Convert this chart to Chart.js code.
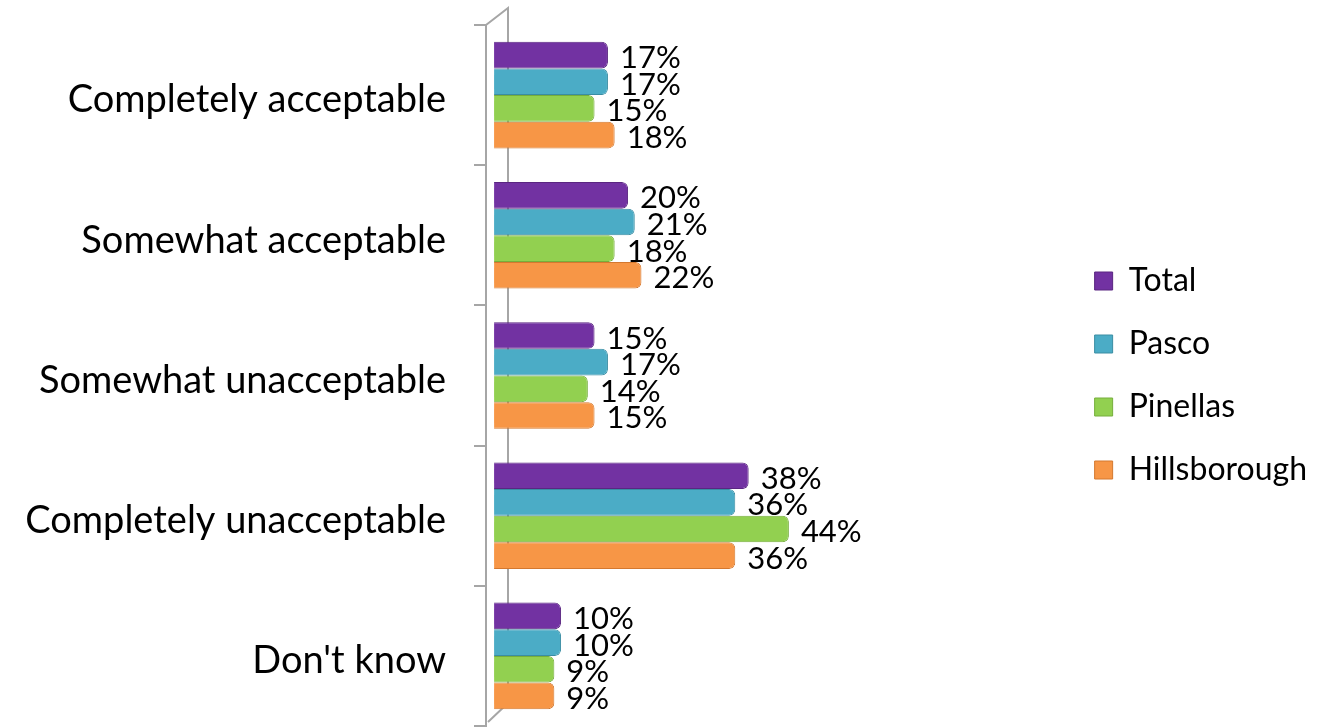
<!DOCTYPE html>
<html>
<head>
<meta charset="utf-8">
<script src="https://cdn.jsdelivr.net/npm/chart.js@4"></script>
<style>
    body { margin: 0; background: #fff; }
    #wrap { width: 1322px; height: 727px; position: relative; }
</style>
</head>
<body>
<div id="wrap"><canvas id="chart"></canvas></div>
<script>
const categories = ["Completely acceptable", "Somewhat acceptable", "Somewhat unacceptable", "Completely unacceptable", "Don't know"];
const seriesNames = ["Total", "Pasco", "Pinellas", "Hillsborough"];
const total = [17, 20, 15, 38, 10];
const pasco = [17, 21, 17, 36, 10];
const pinellas = [15, 18, 14, 44, 9];
const hillsborough = [18, 22, 15, 36, 9];

const colors = ["#7232A2", "#4BACC6", "#92D050", "#F79646"];
const borders = ["#5A2681", "#3A8DA3", "#76AE3C", "#D4782F"];
const FONT = "Lato, 'Open Sans', sans-serif";

const getData = () => {
    const values = [total, pasco, pinellas, hillsborough];
    return {
        labels: categories,
        datasets: seriesNames.map((name, i) => ({
            label: name,
            data: values[i],
            backgroundColor: colors[i],
            borderColor: borders[i],
            borderWidth: 1,
            borderRadius: 6,
            borderSkipped: "left",
            categoryPercentage: 0.76,
            barPercentage: 1,
        })),
    };
};

// value labels at the end of each bar
const valueLabels = {
    id: "valueLabels",
    afterDatasetsDraw(chart) {
        const ctx = chart.ctx;
        ctx.save();
        ctx.font = "31px " + FONT;
        ctx.fillStyle = "#000";
        ctx.textAlign = "left";
        ctx.textBaseline = "middle";
        chart.data.datasets.forEach((ds, i) => {
            chart.getDatasetMeta(i).data.forEach((bar, j) => {
                ctx.fillText(ds.data[j] + "%", bar.x + 12, bar.y + 3);
            });
        });
        ctx.restore();
    },
};

// back wall line of the 3d axis
const wall = {
    id: "wall",
    beforeDatasetsDraw(chart) {
        const { ctx, chartArea } = chart;
        const x0 = chartArea.left;
        const x1 = x0 + 22;
        ctx.save();
        ctx.strokeStyle = "#A6A6A6";
        ctx.lineWidth = 2;
        ctx.beginPath();
        ctx.moveTo(x0, chartArea.top);
        ctx.lineTo(x1, chartArea.top - 17);
        ctx.lineTo(x1, chartArea.bottom - 23);
        ctx.lineTo(x0 + 2, chartArea.bottom - 4);
        ctx.stroke();
        ctx.restore();
    },
};

const getConfig = (data) => {
    return {
        type: "bar",
        data: data,
        plugins: [wall, valueLabels],
        options: {
            indexAxis: "y",
            responsive: true,
            maintainAspectRatio: false,
            animation: false,
            layout: {
                padding: { top: 25, bottom: 1, left: 0, right: 5 },
            },
            scales: {
                x: {
                    display: false,
                    min: -1.2,
                    max: 85,
                },
                y: {
                    afterFit(scale) {
                        scale.width = 486;
                        scale.paddingTop = 0;
                        scale.paddingBottom = 0;
                    },
                    grid: {
                        drawOnChartArea: false,
                        offset: true,
                        tickLength: 12,
                        color: "#A6A6A6",
                        lineWidth: 2,
                    },
                    border: { color: "#A6A6A6", width: 2 },
                    ticks: {
                        color: "#000",
                        padding: 28,
                        labelOffset: 5,
                        font: { family: FONT, size: 38 },
                    },
                },
            },
            plugins: {
                legend: {
                    position: "right",
                    align: "center",
                    labels: {
                        color: "#000",
                        boxWidth: 18,
                        boxHeight: 18,
                        padding: 31,
                        font: { family: FONT, size: 32 },
                    },
                },
                tooltip: { enabled: false },
            },
        },
    };
};

const createChart = () => {
    const ctx = document.getElementById("chart").getContext("2d");
    new Chart(ctx, getConfig(getData()));
};

createChart();
</script>
</body>
</html>
